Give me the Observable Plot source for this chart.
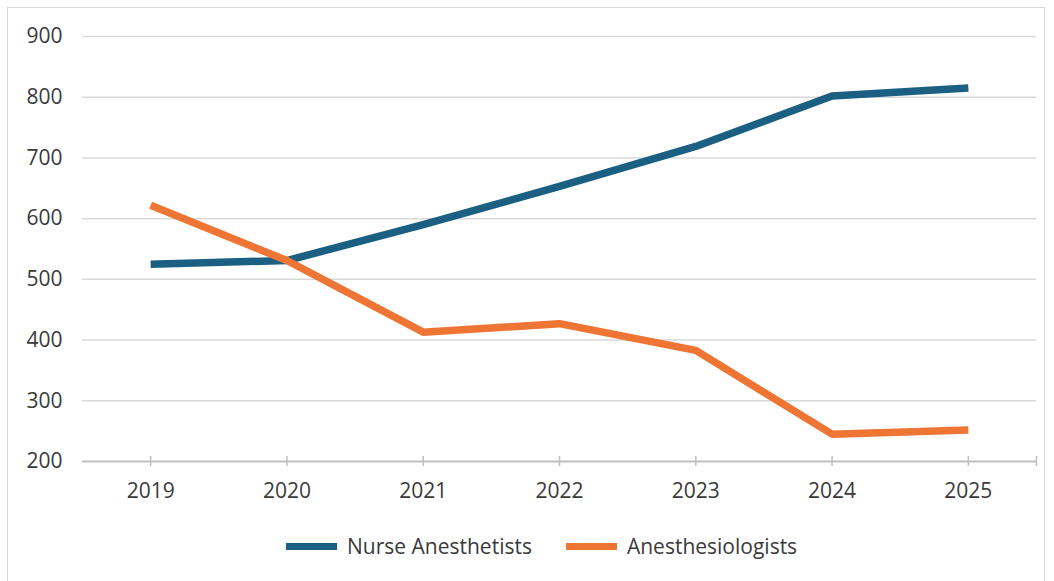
<!DOCTYPE html>
<html>
<head>
<meta charset="utf-8">
<script src="https://cdn.jsdelivr.net/npm/d3@7"></script>
<script src="https://cdn.jsdelivr.net/npm/@observablehq/plot@0.6"></script>
<style>
  body { margin: 0; background: #fff; font-family: "Open Sans", sans-serif; }
  #wrap { position: relative; width: 1054px; height: 581px; overflow: hidden; }
  #frame { position: absolute; left: 7px; top: 7px; width: 1038px; height: 590px; border: 1px solid #d9d9d9; box-sizing: border-box; }
  #chart { position: absolute; left: 0; top: 0; }
  #legend { position: absolute; top: 532px; left: 286px; display: flex; align-items: center; font-size: 21px; color: #3a3a3a; }
  .item { display: flex; align-items: center; margin-right: 34px; }
  .sw { width: 51px; height: 7px; margin-right: 10px; }
</style>
</head>
<body>
<div id="wrap">
  <div id="frame"></div>
  <div id="chart"></div>
  <div id="legend"></div>
</div>
<script>
const years = [2019, 2020, 2021, 2022, 2023, 2024, 2025];
const nurseAnesthetists = [525, 531, 590, 653, 719, 802, 815];
const anesthesiologists = [622, 531, 413, 427, 383, 245, 252];
const seriesNames = ["Nurse Anesthetists", "Anesthesiologists"];
const seriesColors = ["#1b5f83", "#ee7534"];
const yTicks = [200, 300, 400, 500, 600, 700, 800, 900];

const data = [];
years.forEach((y, i) => {
  data.push({year: y, value: nurseAnesthetists[i], series: seriesNames[0]});
  data.push({year: y, value: anesthesiologists[i], series: seriesNames[1]});
});

const tickPositions = [...years, years[years.length - 1] + 0.5];

const plot = Plot.plot({
  width: 1054,
  height: 515,
  marginLeft: 82,
  marginRight: 18,
  marginTop: 36,
  marginBottom: 54,
  style: { fontFamily: "Open Sans, sans-serif", fontSize: "21px", color: "#3a3a3a", background: "transparent" },
  x: { domain: [years[0] - 0.5, years[years.length - 1] + 0.5], ticks: years, tickFormat: d => String(d), tickSize: 0, tickPadding: 22, label: null },
  y: { domain: [200, 900], ticks: yTicks, tickSize: 0, tickPadding: 20, label: null },
  color: { domain: seriesNames, range: seriesColors },
  marks: [
    Plot.gridY(yTicks.filter(d => d > 200), { stroke: "#d9d9d9", strokeOpacity: 1, strokeWidth: 1.5 }),
    Plot.ruleY([200], { stroke: "#bfbfbf", strokeWidth: 2 }),
    Plot.ruleX(tickPositions, { y1: 200, y2: 200, insetTop: -5, insetBottom: -5, stroke: "#bfbfbf", strokeWidth: 1.5 }),
    Plot.line(data, { x: "year", y: "value", z: "series", stroke: "series", strokeWidth: 7.5, strokeLinejoin: "miter", strokeLinecap: "butt" })
  ]
});
document.getElementById("chart").appendChild(plot);

const legend = document.getElementById("legend");
seriesNames.forEach((name, i) => {
  const item = document.createElement("div");
  item.className = "item";
  const sw = document.createElement("div");
  sw.className = "sw";
  sw.style.background = seriesColors[i];
  const t = document.createElement("span");
  t.textContent = name;
  item.appendChild(sw);
  item.appendChild(t);
  legend.appendChild(item);
});
</script>
</body>
</html>
